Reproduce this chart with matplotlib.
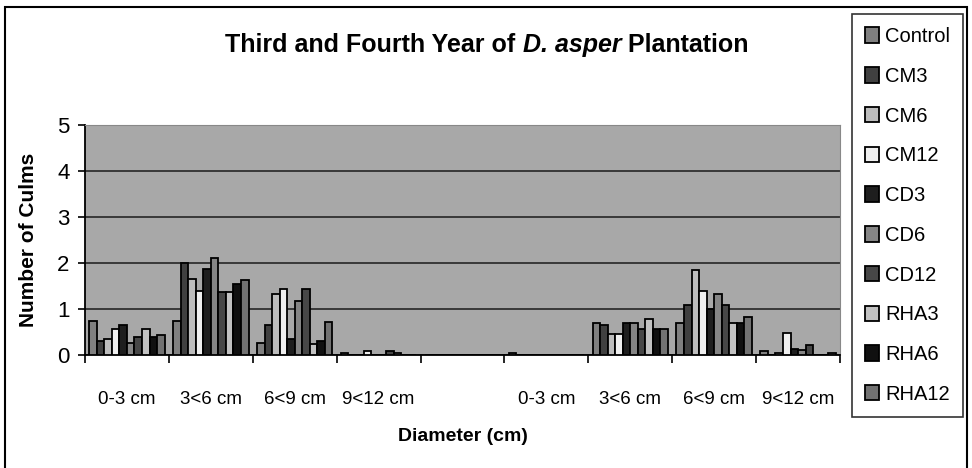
import numpy as np
import matplotlib
matplotlib.use("Agg")
import matplotlib.pyplot as plt
from matplotlib.patches import Rectangle

plt.rcParams['font.family'] = ['Liberation Sans', 'DejaVu Sans']

# Diameter classes: 3rd year, blank spacer, 4th year
categories = ["0-3 cm", "3<6 cm", "6<9 cm", "9<12 cm", "",
              "0-3 cm", "3<6 cm", "6<9 cm", "9<12 cm"]

series_names = ["Control", "CM3", "CM6", "CM12", "CD3", "CD6",
                "CD12", "RHA3", "RHA6", "RHA12"]

control = [0.74, 0.74, 0.26, 0.04, 0, 0.04, 0.70, 0.70, 0.09]
cm3 = [0.30, 2.00, 0.65, 0, 0, 0, 0.65, 1.09, 0]
cm6 = [0.35, 1.66, 1.32, 0, 0, 0, 0.46, 1.85, 0.04]
cm12 = [0.56, 1.40, 1.44, 0.09, 0, 0, 0.46, 1.40, 0.48]
cd3 = [0.65, 1.86, 0.35, 0, 0, 0, 0.70, 0.99, 0.12]
cd6 = [0.26, 2.10, 1.18, 0, 0, 0, 0.70, 1.32, 0.11]
cd12 = [0.39, 1.36, 1.44, 0.09, 0, 0, 0.56, 1.09, 0.21]
rha3 = [0.56, 1.36, 0.24, 0.05, 0, 0, 0.79, 0.70, 0]
rha6 = [0.40, 1.55, 0.31, 0, 0, 0, 0.56, 0.70, 0]
rha12 = [0.43, 1.62, 0.71, 0, 0, 0, 0.56, 0.82, 0.04]

values = [control, cm3, cm6, cm12, cd3, cd6, cd12, rha3, rha6, rha12]
colors = ["#808080", "#404040", "#bdbdbd", "#efefef", "#1e1e1e",
          "#858585", "#474747", "#c2c2c2", "#101010", "#727272"]

fig = plt.figure(figsize=(9.72, 4.68), dpi=100)
W, H = 972, 468
ax = fig.add_axes([85 / W, 1 - 355 / H, 755 / W, 230 / H])

bw = 0.09
x = np.arange(len(categories))
for i, (name, vals, c) in enumerate(zip(series_names, values, colors)):
    ax.bar(x - 0.45 + bw * (i + 0.5), vals, width=bw, color=c,
           edgecolor="black", linewidth=1.3, label=name, zorder=3)

ax.set_facecolor("#a8a8a8")
ax.set_ylim(0, 5)
ax.set_xlim(-0.5, len(categories) - 0.5)
ax.set_yticks(range(6))
ax.yaxis.grid(True, color="#1a1a1a", linewidth=1.1, zorder=1)
ax.tick_params(axis="y", labelsize=16, length=5, width=1.2, pad=6)

# category boundaries as ticks, labels in between
ax.set_xticks(np.arange(len(categories) + 1) - 0.5)
ax.set_xticklabels([])
ax.tick_params(axis="x", which="major", length=6, width=1.2)
ax.set_xticks(x, minor=True)
ax.set_xticklabels(categories, minor=True, fontsize=13.5)
ax.tick_params(axis="x", which="minor", length=0, pad=26)

for s in ["top", "right"]:
    ax.spines[s].set_color("#888888")
for s in ["left", "bottom"]:
    ax.spines[s].set_linewidth(1.3)

ax.set_ylabel("Number of Culms", fontsize=15, fontweight="bold", labelpad=14)
ax.set_xlabel("Diameter (cm)", fontsize=14, fontweight="bold", labelpad=14)

leg = fig.legend(loc="upper left", bbox_to_anchor=(852 / W, 1 - 14 / H),
                 fontsize=14.5, frameon=True, fancybox=False, edgecolor="black",
                 handlelength=0.7, handleheight=0.8, handletextpad=0.3,
                 labelspacing=1.03, borderpad=0.65, borderaxespad=0)
leg.get_frame().set_linewidth(1.2)

# title with italic species name
renderer = fig.canvas.get_renderer()
parts = [("Third and Fourth Year of ", "normal"), ("D. asper", "italic"),
         (" Plantation", "normal")]
texts = []
for s, st in parts:
    t = fig.text(0, 1 - 45 / H, s, fontsize=18, fontweight="bold", style=st,
                 va="center", ha="left")
    texts.append(t)
widths = [t.get_window_extent(renderer).width for t in texts]
xpos = 487 - sum(widths) / 2
for t, w in zip(texts, widths):
    t.set_x(xpos / W)
    xpos += w

# outer chart border
fig.patches.append(Rectangle((5 / W, -0.05), 962 / W, 1.05 - 7 / H,
                             transform=fig.transFigure, fill=False,
                             edgecolor="black", linewidth=1.5))

fig.savefig("out.png", dpi=100)
